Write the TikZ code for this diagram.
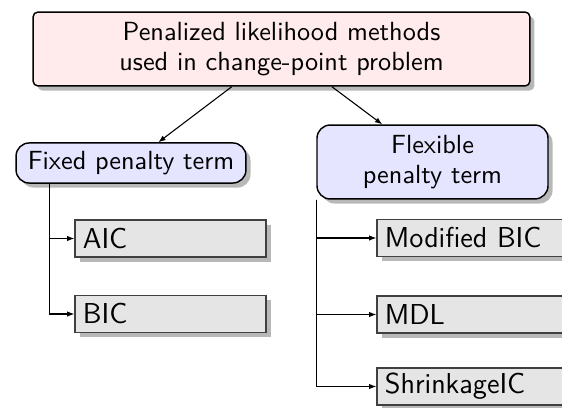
\documentclass[tikz,border=0pt]{standalone}
\usetikzlibrary{shadows,arrows.meta}
\begin{document}
\begin{tikzpicture}[x=0.41667pt,y=-0.41667pt,
  >={Latex[length=3pt,width=2.3pt]},
  shad/.style={drop shadow={shadow xshift=1.9pt,shadow yshift=-1.9pt,fill=black!28,opacity=1}},
  topbox/.style={draw=black, line width=0.6pt, fill=red!8, rounded corners=2pt, align=center,
    minimum width=207pt, minimum height=30.8pt, inner sep=0pt, shad,
    font=\fontsize{10.95}{12.5}\selectfont\sffamily},
  midbox/.style={draw=black, line width=0.6pt, fill=blue!10, rounded corners=5.5pt, align=center,
    minimum height=16.7pt, inner sep=0pt, shad,
    font=\fontsize{10.95}{12.5}\selectfont\sffamily},
  leaf/.style={draw=black!75, line width=0.6pt, fill=black!10, align=left,
    text width=73pt, inner xsep=3.3pt, inner ysep=0pt, minimum height=15.4pt, shad,
    font=\fontsize{12}{14}\selectfont\sffamily},
  conn/.style={->, line width=0.45pt}]
\useasboundingbox (0,0) rectangle (562,407);
\node[topbox] (top) at (281.5,49) {Penalized likelihood methods\\used in change-point problem};
\node[midbox, minimum width=95.8pt] (fixed) at (131,163) {Fixed penalty term};
\node[midbox, minimum width=96.25pt, minimum height=30.8pt] (flex) at (432.5,162) {Flexible\\penalty term};
\node[leaf] (aic) at (170.5,238.5) {AIC};
\node[leaf] (bic) at (170.5,314) {BIC};
\node[leaf] (mbic) at (472.5,238) {Modified BIC};
\node[leaf] (mdl) at (472.5,314.5) {MDL};
\node[leaf] (sic) at (472.5,386.5) {ShrinkageIC};
\draw[conn] (top) -- (fixed);
\draw[conn] (top) -- (flex);
\draw[conn] (fixed.south west) ++(34,0) |- (aic.west);
\draw[conn] (fixed.south west) ++(34,0) |- (bic.west);
\draw[conn] (flex.south west) |- (mbic.west);
\draw[conn] (flex.south west) |- (mdl.west);
\draw[conn] (flex.south west) |- (sic.west);
\end{tikzpicture}
\end{document}
